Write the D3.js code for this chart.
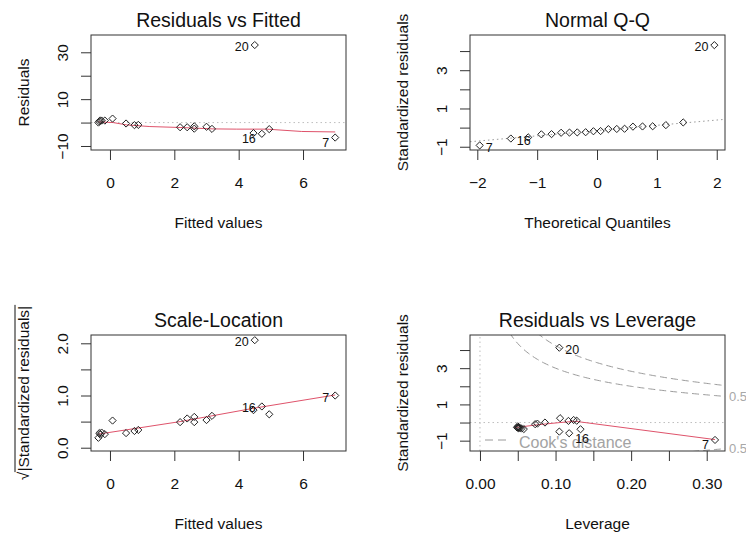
<!DOCTYPE html>
<html>
<head>
<meta charset="utf-8">
<script src="https://cdn.jsdelivr.net/npm/d3@7"></script>
<style>
  body { margin: 0; background: #fff; }
  svg text { font-family: "Liberation Sans", Arial, sans-serif; fill: #111; }
</style>
</head>
<body>
<svg id="chart" width="746" height="537"></svg>
<script>
// ---- data (lm diagnostics, n = 20) ----
const fitted       = [-0.36, -0.33, -0.30, -0.26, -0.16, 0.08, 0.50, 0.76, 0.88, 2.18,
                       2.40, 2.62, 2.62, 3.00, 3.17, 4.46, 4.50, 4.72, 4.95, 7.00];
const residuals    = [0.0, 0.5, 0.9, 0.85, 0.85, 1.7, -0.4, -1.1, -1.0, -2.0,
                      -2.0, -2.6, -1.6, -1.8, -2.7, -4.5, 33.1, -4.8, -2.8, -6.4];
const sqrtStdResid = [0.19, 0.28, 0.25, 0.29, 0.26, 0.52, 0.28, 0.32, 0.34, 0.49,
                      0.56, 0.59, 0.49, 0.53, 0.61, 0.72, 2.06, 0.79, 0.64, 1.00];

const qqTheoretical = [-1.96, -1.44, -1.15, -0.93, -0.76, -0.60, -0.46, -0.33, -0.19, -0.06,
                        0.06, 0.19, 0.33, 0.46, 0.60, 0.76, 0.93, 1.15, 1.44, 1.96];
const qqSample      = [-0.93, -0.57, -0.51, -0.35, -0.34, -0.27, -0.26, -0.25, -0.24, -0.19,
                       -0.18, -0.08, -0.07, -0.06, 0.05, 0.06, 0.07, 0.13, 0.27, 4.31];
const qqLineIntercept = -0.155;
const qqLineSlope     = 0.275;

const leverage    = [0.311, 0.118, 0.105, 0.133, 0.105, 0.106, 0.117, 0.124, 0.128, 0.073,
                     0.076, 0.086, 0.049, 0.050, 0.050, 0.051, 0.052, 0.053, 0.055, 0.058];
const levStdResid = [-0.96, -0.59, -0.50, -0.37, 4.13, 0.24, 0.09, 0.14, 0.10, -0.09,
                     -0.06, 0.00, -0.27, -0.29, -0.21, -0.31, -0.28, -0.30, -0.33, -0.36];

// red smoothers
const fitSmoothX = [-0.36, 0.10, 0.52, 1.24, 2.18, 3.20, 3.94, 4.87, 5.96, 7.00];
const fitSmoothY = [0.3, 0.0, -1.0, -1.7, -2.1, -2.7, -2.8, -2.8, -3.8, -4.0];
const slSmoothX  = [-0.36, 2.18, 4.46, 7.00];
const slSmoothY  = [0.26, 0.50, 0.755, 1.01];
const levSmoothX = [0.046, 0.075, 0.106, 0.126, 0.311];
const levSmoothY = [-0.28, -0.13, 0.00, 0.07, -0.94];

// ids of the three most extreme points (by |residual|)
const idLabels   = ['20', '7', '16'];
const cookLevels = [0.5, 1];
const nParams    = 2;

// ---- styling ----
const RED = '#DF536B', GRAY_DOT = '#bebebe', GRAY_DASH = '#9a9a9a';
const svg = d3.select('#chart');
let clipCount = 0;

function panel (cfg) {
  const x = d3.scaleLinear().domain(cfg.xDomain).range([cfg.box[0], cfg.box[1]]);
  const y = d3.scaleLinear().domain(cfg.yDomain).range([cfg.box[3], cfg.box[2]]);
  const g = svg.append('g');
  const clipId = 'clip' + (clipCount++);
  g.append('clipPath').attr('id', clipId).append('rect')
      .attr('x', cfg.box[0]).attr('y', cfg.box[2])
      .attr('width', cfg.box[1] - cfg.box[0]).attr('height', cfg.box[3] - cfg.box[2]);
  const inner = g.append('g').attr('clip-path', `url(#${clipId})`);

  // axes: ticks only, box drawn separately
  const xAxis = g.append('g').attr('transform', `translate(0,${cfg.box[3]})`)
      .call(d3.axisBottom(x).tickValues(cfg.xTicks).tickSize(10).tickPadding(0)
          .tickFormat(d => cfg.xLabelled.includes(d) ? cfg.xFormat(d) : ''));
  xAxis.select('.domain').remove();
  xAxis.selectAll('line').attr('stroke', '#333');
  xAxis.selectAll('text').attr('y', 38).attr('dy', null).attr('font-size', 15.5)
      .attr('fill', '#111');

  const yAxis = g.append('g').attr('transform', `translate(${cfg.box[0]},0)`)
      .call(d3.axisLeft(y).tickValues(cfg.yTicks).tickSize(10)
          .tickFormat(d => cfg.yLabelled.includes(d) ? cfg.yFormat(d) : ''));
  yAxis.select('.domain').remove();
  yAxis.selectAll('line').attr('stroke', '#333');
  yAxis.selectAll('text').attr('x', null).attr('dy', null)
      .attr('transform', 'translate(-23,0) rotate(-90)')
      .attr('text-anchor', 'middle').attr('font-size', 15.5).attr('fill', '#111');

  // box
  g.append('rect').attr('x', cfg.box[0]).attr('y', cfg.box[2])
      .attr('width', cfg.box[1] - cfg.box[0]).attr('height', cfg.box[3] - cfg.box[2])
      .attr('fill', 'none').attr('stroke', '#333').attr('stroke-width', 1);

  // titles
  const cx = (cfg.box[0] + cfg.box[1]) / 2, cy = (cfg.box[2] + cfg.box[3]) / 2;
  g.append('text').attr('x', cx).attr('y', cfg.box[2] - 8).attr('text-anchor', 'middle')
      .attr('font-size', 19.5).text(cfg.title);
  g.append('text').attr('x', cx).attr('y', cfg.box[3] + 78).attr('text-anchor', 'middle')
      .attr('font-size', 15.5).text(cfg.xLabel);
  if (cfg.yLabel) {
    g.append('text').attr('transform', `translate(${cfg.box[0] - 62.5},${cy}) rotate(-90)`)
        .attr('text-anchor', 'middle').attr('font-size', 15.5).text(cfg.yLabel);
  }

  return { x, y, g, inner };
}

// open markers; at this size R's circles render as small diamonds
const marker = 'M0,-3.6L3.6,0L0,3.6L-3.6,0Z';

function drawPoints (p, xs, ys) {
  p.g.selectAll(null).data(xs).enter().append('path')
      .attr('d', marker)
      .attr('transform', (d, i) => `translate(${p.x(d)},${p.y(ys[i])})`)
      .attr('fill', 'none').attr('stroke', '#222').attr('stroke-width', 1)
      .attr('stroke-linejoin', 'round');
}

function drawLine (p, xs, ys, color, dash) {
  const line = d3.line().x(d => p.x(d[0])).y(d => p.y(d[1]));
  p.inner.append('path').datum(xs.map((d, i) => [d, ys[i]])).attr('d', line)
      .attr('fill', 'none').attr('stroke', color).attr('stroke-width', 1)
      .attr('stroke-dasharray', dash || null);
}

function labelExtremes (p, xs, ys, lowShift) {
  const order = d3.range(ys.length).sort((a, b) => Math.abs(ys[b]) - Math.abs(ys[a])).slice(0, 3);
  const mid = d3.mean(p.x.domain());
  order.forEach((idx, k) => {
    const right = xs[idx] < mid;
    p.g.append('text')
        .attr('x', p.x(xs[idx]) + (right ? 6 : -6))
        .attr('y', p.y(ys[idx]) + 6 + (ys[idx] < 0 ? lowShift : 0))
        .attr('text-anchor', right ? 'start' : 'end')
        .attr('font-size', 12.5).text(idLabels[k]);
  });
}

// ---- 1. Residuals vs Fitted ----
const p1 = panel({
  box: [91, 346, 35, 150], xDomain: [-0.59, 7.336], yDomain: [-11.71, 37.38],
  xTicks: [0, 2, 4, 6], xLabelled: [0, 2, 4, 6], xFormat: d3.format('d'),
  yTicks: [-10, 0, 10, 20, 30], yLabelled: [-10, 10, 30], yFormat: d3.format('d'),
  title: 'Residuals vs Fitted', xLabel: 'Fitted values', yLabel: 'Residuals'
});
drawLine(p1, p1.x.domain(), [0, 0], GRAY_DOT, '1.5,3');
drawPoints(p1, fitted, residuals);
drawLine(p1, fitSmoothX, fitSmoothY, RED);
labelExtremes(p1, fitted, residuals, 3.5);

// ---- 2. Normal Q-Q ----
const p2 = panel({
  box: [470, 725, 35, 150], xDomain: [-2.122, 2.138], yDomain: [-1.17, 4.84],
  xTicks: [-2, -1, 0, 1, 2], xLabelled: [-2, -1, 0, 1, 2], xFormat: d3.format('d'),
  yTicks: [-1, 0, 1, 2, 3, 4], yLabelled: [-1, 1, 3], yFormat: d3.format('d'),
  title: 'Normal Q-Q', xLabel: 'Theoretical Quantiles', yLabel: 'Standardized residuals'
});
drawLine(p2, p2.x.domain(), p2.x.domain().map(v => qqLineIntercept + qqLineSlope * v), GRAY_DASH, '1.5,3');
drawPoints(p2, qqTheoretical, qqSample);
labelExtremes(p2, qqTheoretical, qqSample, 0.5);

// ---- 3. Scale-Location ----
const p3 = panel({
  box: [91, 346, 335, 451], xDomain: [-0.59, 7.336], yDomain: [-0.063, 2.159],
  xTicks: [0, 2, 4, 6], xLabelled: [0, 2, 4, 6], xFormat: d3.format('d'),
  yTicks: [0, 0.5, 1, 1.5, 2], yLabelled: [0, 1, 2], yFormat: d3.format('.1f'),
  title: 'Scale-Location', xLabel: 'Fitted values', yLabel: null
});
drawPoints(p3, fitted, sqrtStdResid);
drawLine(p3, slSmoothX, slSmoothY, RED);
labelExtremes(p3, fitted, sqrtStdResid, 0);
{
  // sqrt(|Standardized residuals|) axis title
  const gl = p3.g.append('g').attr('transform', `translate(${91 - 62.5},${(335 + 451) / 2}) rotate(-90)`);
  const t = gl.append('text').attr('text-anchor', 'middle').attr('font-size', 15.5)
      .text('\u221A|Standardized residuals|');
  const len = t.node().getComputedTextLength();
  const rootW = t.node().getSubStringLength(0, 1);
  gl.append('line').attr('x1', -len / 2 + rootW - 0.5).attr('x2', len / 2 + 1)
      .attr('y1', -13.5).attr('y2', -13.5).attr('stroke', '#111').attr('stroke-width', 1);
}

// ---- 4. Residuals vs Leverage ----
const p4 = panel({
  box: [470, 725, 335, 451], xDomain: [-0.0132, 0.3242], yDomain: [-1.57, 4.83],
  xTicks: [0, 0.05, 0.1, 0.15, 0.2, 0.25, 0.3], xLabelled: [0, 0.1, 0.2, 0.3], xFormat: d3.format('.2f'),
  yTicks: [-1, 0, 1, 2, 3, 4], yLabelled: [-1, 1, 3], yFormat: d3.format('d'),
  title: 'Residuals vs Leverage', xLabel: 'Leverage', yLabel: 'Standardized residuals'
});
drawLine(p4, [0, 0], p4.y.domain(), GRAY_DOT, '1.5,3');
drawLine(p4, p4.x.domain(), [0, 0], GRAY_DOT, '1.5,3');
{
  const hh = d3.range(0.002, p4.x.domain()[1] + 0.002, 0.002);
  cookLevels.forEach(level => {
    [1, -1].forEach(sign => {
      drawLine(p4, hh, hh.map(h => sign * Math.sqrt(level * nParams * (1 - h) / h)), GRAY_DASH, '7,4');
    });
  });
  // right-margin labels (the "1" labels collide and are dropped, as in R)
  const hmax = p4.x.domain()[1];
  [1, -1].forEach(sign => {
    p4.g.append('text').attr('x', 725 + 4)
        .attr('y', p4.y(sign * Math.sqrt(cookLevels[0] * nParams * (1 - hmax) / hmax)) + 4.5)
        .attr('font-size', 13).style('fill', '#a8a8a8').text(String(cookLevels[0]));
  });
  // legend
  p4.g.append('line').attr('x1', 485).attr('x2', 511).attr('y1', 440).attr('y2', 440)
      .attr('stroke', GRAY_DASH).attr('stroke-dasharray', '8,5');
  p4.g.append('text').attr('x', 519).attr('y', 448).attr('font-size', 16)
      .style('fill', '#a3a3a3').text("Cook's distance");
}
drawPoints(p4, leverage, levStdResid);
drawLine(p4, levSmoothX, levSmoothY, RED);
labelExtremes(p4, leverage, levStdResid, 3.5);
</script>
</body>
</html>
